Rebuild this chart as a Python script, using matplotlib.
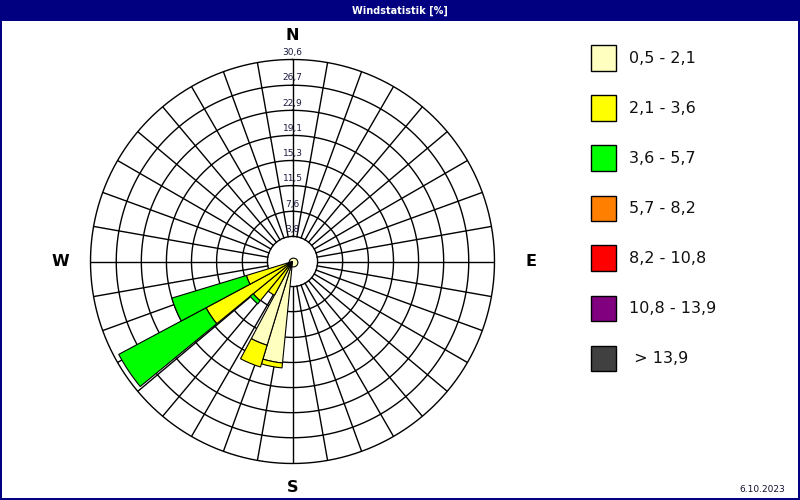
import numpy as np
import matplotlib.pyplot as plt
from matplotlib.patches import Rectangle

# Windrose "Windstatistik [%]" - Anteile je Richtung (32 Sektoren) und Windklasse

# Richtungen (Grad, 0 = Nord, im Uhrzeigersinn)
directions = [191.25, 202.5, 213.75, 225.0, 236.25, 247.5]

# Anteile in % je Windklasse (gestapelt von innen nach aussen)
class_05_21 = [15.45, 13.25, 0.3, 0.3, 0.3, 0.3]
class_21_36 = [0.75, 3.45, 5.5, 7.4, 14.55, 7.0]
class_36_57 = [0.0, 0.0, 0.0, 0.6, 15.0, 11.8]
class_57_82 = [0.0, 0.0, 0.0, 0.0, 0.0, 0.0]
class_82_108 = [0.0, 0.0, 0.0, 0.0, 0.0, 0.0]
class_108_139 = [0.0, 0.0, 0.0, 0.0, 0.0, 0.0]
class_139 = [0.0, 0.0, 0.0, 0.0, 0.0, 0.0]

class_labels = ['0,5 - 2,1', '2,1 - 3,6', '3,6 - 5,7', '5,7 - 8,2',
                '8,2 - 10,8', '10,8 - 13,9', ' > 13,9']
class_colors = ['#ffffc0', '#ffff00', '#00ff00', '#ff8000',
                '#ff0000', '#800080', '#404040']

ring_values = [3.8, 7.6, 11.5, 15.3, 19.1, 22.9, 26.7, 30.6]
ring_labels = ['3,8', '7,6', '11,5', '15,3', '19,1', '22,9', '26,7', '30,6']

compass_labels = ['N', 'E', 'S', 'W']
compass_angles = [0, 90, 180, 270]
compass_radius = [34.3, 36.1, 34.3, 35.1]

date_text = '6.10.2023'
navy = '#000080'

W_PX, H_PX = 800, 500


def fx(px):
    return px / W_PX


def fy(py):
    return 1 - py / H_PX


fig = plt.figure(figsize=(8, 5), dpi=100)
fig.patch.set_facecolor('white')

# Titelleiste + Rahmen
fig.add_artist(Rectangle((0, fy(20.5)), 1, 20.5 / H_PX, transform=fig.transFigure,
                         facecolor=navy, edgecolor='none'))
fig.add_artist(Rectangle((fx(1), fy(499)), 798 / W_PX, 498 / H_PX, transform=fig.transFigure,
                         fill=False, edgecolor=navy, linewidth=1.44))
fig.text(0.5, fy(10.5), 'Windstatistik [%]', color='white', fontsize=7,
         fontweight='bold', ha='center', va='center')
fig.text(fx(785), fy(489), date_text, fontsize=6.5, color='#101030',
         ha='right', va='center')

# Polardiagramm
cx, cy, R = 292.5, 261.5, 202
ax = fig.add_axes([fx(cx - R), fy(cy + R), 2 * R / W_PX, 2 * R / H_PX], projection='polar')
ax.set_theta_zero_location('N')
ax.set_theta_direction(-1)
ax.set_ylim(0, ring_values[-1])
ax.grid(False)
ax.set_xticks([])
ax.set_yticks([])
ax.spines['polar'].set_visible(False)
ax.patch.set_alpha(0)

# Ringe und Speichen
full = np.linspace(0, 2 * np.pi, 721)
for r in ring_values:
    ax.plot(full, np.full_like(full, r), color='black', lw=1.0, zorder=1, clip_on=False)
for a in range(0, 360, 10):
    t = np.deg2rad(a)
    ax.plot([t, t], [ring_values[0], ring_values[-1]], color='black', lw=1.0, zorder=1)

for r, lbl in zip(ring_values, ring_labels):
    ax.text(0, r + 1.1, lbl, ha='center', va='center', fontsize=6.5,
            color='#1a1a40', zorder=5)

for lbl, a, r in zip(compass_labels, compass_angles, compass_radius):
    ax.text(np.deg2rad(a), r, lbl, ha='center', va='center', fontsize=11.5,
            fontweight='bold', color='black')

# Calm-Kreis in der Mitte
ax.scatter([0], [0], s=40, c=class_colors[0], edgecolors='black', linewidths=0.8, zorder=2)

# Gestapelte Sektoren
theta = np.deg2rad(directions)
width = np.deg2rad(11.25)
bottom = np.zeros(len(directions))
classes = [class_05_21, class_21_36, class_36_57, class_57_82,
           class_82_108, class_108_139, class_139]
for vals, col in zip(classes, class_colors):
    h = np.array(vals)
    m = h > 0
    if m.any():
        ax.bar(theta[m], h[m], width=width, bottom=bottom[m], color=col,
               edgecolor='black', linewidth=0.8, zorder=3)
    bottom += h

# Legende
for i, (lbl, col) in enumerate(zip(class_labels, class_colors)):
    top = 45.5 + 50 * i
    fig.add_artist(Rectangle((fx(590.5), fy(top + 25)), 25 / W_PX, 25 / H_PX,
                             transform=fig.transFigure, facecolor=col,
                             edgecolor='black', linewidth=1.0))
    fig.text(fx(629), fy(top + 13), lbl, fontsize=11.5, color='#101010',
             ha='left', va='center')

fig.savefig('out.png', dpi=100)
